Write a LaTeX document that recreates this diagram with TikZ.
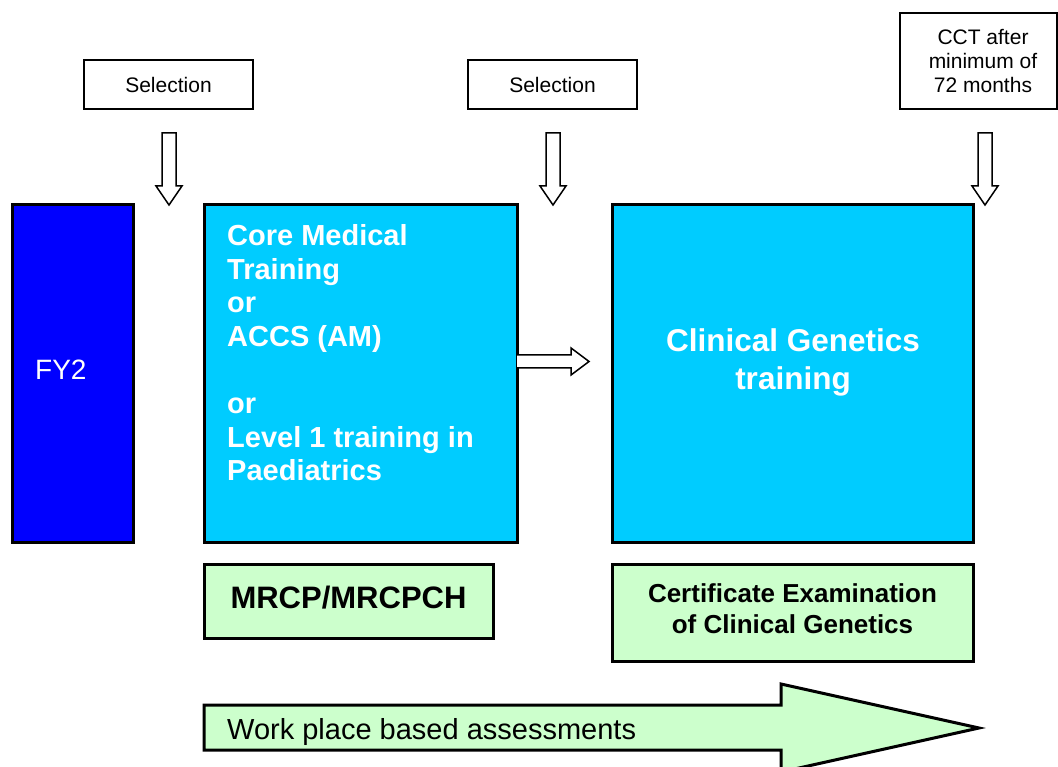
\documentclass[tikz,border=0pt]{standalone}
\usepackage{fontspec}
\setmainfont{Liberation Sans}
\definecolor{fyblue}{RGB}{0,0,255}
\definecolor{corecyan}{RGB}{0,204,255}
\definecolor{lightgreen}{RGB}{204,255,204}
\begin{document}
\begin{tikzpicture}[x=1pt,y=-1pt,
  bigbox/.style={draw=black,line width=3pt,inner sep=0pt,outer sep=0pt},
  smallbox/.style={draw=black,line width=1.3pt,fill=white,inner sep=0pt,outer sep=0pt},
  hollowarrow/.style={draw=black,line width=1.5pt,fill=white,line join=miter},
  greenarrow/.style={draw=black,line width=3pt,fill=lightgreen,line join=miter},
  whitebold/.style={text=white,font=\fontsize{29}{33}\selectfont\bfseries,inner sep=0pt,anchor=base west},
  smalltext/.style={font=\fontsize{21}{24}\selectfont,inner sep=0pt,anchor=base}
]
\useasboundingbox (0,0) rectangle (1058,767);
\clip (0,0) rectangle (1058,767);

% Top boxes
\node[smallbox,minimum width=169pt,minimum height=49pt] (sel1) at (168.5,84.5) {};
\node[smalltext] (sel1t) at (168.5,92.5) {Selection};
\node[smallbox,minimum width=169pt,minimum height=49pt] (sel2) at (552.5,84.5) {};
\node[smalltext] (sel2t) at (552.5,92.5) {Selection};
\node[smallbox,minimum width=157pt,minimum height=96pt] (cct) at (978.5,61) {};
\node[smalltext] (cct1) at (983,44.5) {CCT after};
\node[smalltext] (cct2) at (983,68.5) {minimum of};
\node[smalltext] (cct3) at (983,92.5) {72 months};

% Down arrows
\foreach \cx/\nm in {169/d1,553/d2,985/d3}{
  \draw[hollowarrow] (\cx-7,133) -- (\cx+7,133) -- (\cx+7,186) -- (\cx+13,186)
     -- (\cx,205) -- (\cx-13,186) -- (\cx-7,186) -- cycle;
}

% Main boxes
\node[bigbox,fill=fyblue,minimum width=121pt,minimum height=337pt] (fy2) at (72.5,373.5) {};
\node[text=white,font=\fontsize{28}{33}\selectfont,inner sep=0pt,anchor=base west] (fy2t) at (35,380) {FY2};

\node[bigbox,fill=corecyan,minimum width=313pt,minimum height=337pt] (core) at (360.5,373.5) {};
\node[whitebold] (c1) at (227,246) {Core Medical};
\node[whitebold] (c2) at (227,279.5) {Training};
\node[whitebold] (c3) at (227,313) {or};
\node[whitebold] (c4) at (227,346.5) {ACCS (AM)};
\node[whitebold] (c5) at (227,413.5) {or};
\node[whitebold] (c6) at (227,447) {Level 1 training in};
\node[whitebold] (c7) at (227,480.5) {Paediatrics};

\node[bigbox,fill=corecyan,minimum width=361pt,minimum height=337pt] (cg) at (792.5,373.5) {};
\node[text=white,font=\fontsize{31.5}{37}\selectfont\bfseries,inner sep=0pt,anchor=base] (cg1) at (793,352) {Clinical Genetics};
\node[text=white,font=\fontsize{31.5}{37}\selectfont\bfseries,inner sep=0pt,anchor=base] (cg2) at (793,389) {training};

% Right arrow between boxes
\draw[hollowarrow] (core.east |- 0,355) -- (571,355) -- (571,348) -- (589,361.5)
   -- (571,375) -- (571,368) -- (core.east |- 0,368);

% Exam boxes
\node[bigbox,fill=lightgreen,minimum width=289pt,minimum height=74pt] (mrcp) at (348.5,601) {};
\node[font=\fontsize{31}{36}\selectfont\bfseries,inner sep=0pt,anchor=base] (mrcpt) at (348.5,608.5) {MRCP/MRCPCH};
\node[bigbox,fill=lightgreen,minimum width=361pt,minimum height=97pt] (cert) at (792.5,613) {};
\node[font=\fontsize{26}{31}\selectfont\bfseries,inner sep=0pt,anchor=base] (cert1) at (792.5,602.5) {Certificate Examination};
\node[font=\fontsize{26}{31}\selectfont\bfseries,inner sep=0pt,anchor=base] (cert2) at (792.5,633.5) {of Clinical Genetics};

% Big arrow
\draw[greenarrow] (204,705) -- (781,705) -- (781,684) -- (979,728)
   -- (781,772) -- (781,750) -- (204,750) -- cycle;
\node[font=\fontsize{29}{33}\selectfont,inner sep=0pt,anchor=base west] (wpba) at (227,739) {Work place based assessments};
\end{tikzpicture}
\end{document}
